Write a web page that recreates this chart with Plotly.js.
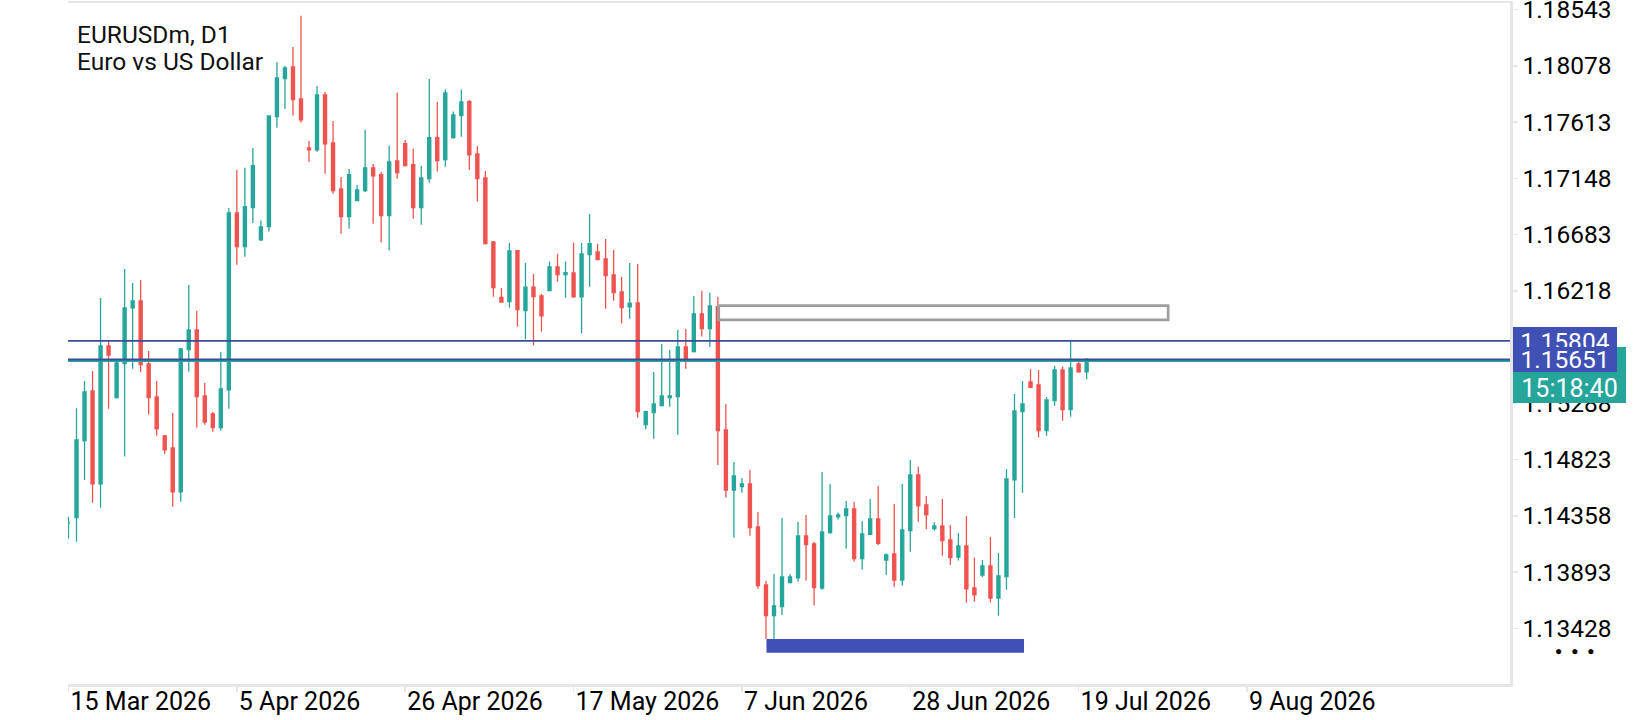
<!DOCTYPE html>
<html><head><meta charset="utf-8">
<script src="https://cdn.plot.ly/plotly-3.0.1.min.js"></script>
<style>html,body{margin:0;padding:0;background:#fff;} #chart{width:1640px;height:720px;}</style>
</head><body><div id="chart"></div>
<script>
// ---- data ----
const dates = [
'2026-03-15','2026-03-16','2026-03-17','2026-03-18','2026-03-19','2026-03-20','2026-03-21','2026-03-22','2026-03-23','2026-03-24','2026-03-25','2026-03-26','2026-03-27','2026-03-28','2026-03-29','2026-03-30','2026-03-31',
'2026-04-01','2026-04-02','2026-04-03','2026-04-04','2026-04-05','2026-04-06','2026-04-07','2026-04-08','2026-04-09','2026-04-10','2026-04-11','2026-04-12','2026-04-13','2026-04-14','2026-04-15','2026-04-16','2026-04-17','2026-04-18','2026-04-19','2026-04-20','2026-04-21','2026-04-22','2026-04-23','2026-04-24','2026-04-25','2026-04-26','2026-04-27','2026-04-28','2026-04-29','2026-04-30',
'2026-05-01','2026-05-02','2026-05-03','2026-05-04','2026-05-05','2026-05-06','2026-05-07','2026-05-08','2026-05-09','2026-05-10','2026-05-11','2026-05-12','2026-05-13','2026-05-14','2026-05-15','2026-05-16','2026-05-17','2026-05-18','2026-05-19','2026-05-20','2026-05-21','2026-05-22','2026-05-23','2026-05-24','2026-05-25','2026-05-26','2026-05-27','2026-05-28','2026-05-29','2026-05-30','2026-05-31',
'2026-06-01','2026-06-02','2026-06-03','2026-06-04','2026-06-05','2026-06-06','2026-06-07','2026-06-08','2026-06-09','2026-06-10','2026-06-11','2026-06-12','2026-06-13','2026-06-14','2026-06-15','2026-06-16','2026-06-17','2026-06-18','2026-06-19','2026-06-20','2026-06-21','2026-06-22','2026-06-23','2026-06-24','2026-06-25','2026-06-26','2026-06-27','2026-06-28','2026-06-29','2026-06-30',
'2026-07-01','2026-07-02','2026-07-03','2026-07-04','2026-07-05','2026-07-06','2026-07-07','2026-07-08','2026-07-09','2026-07-10','2026-07-11','2026-07-12','2026-07-13','2026-07-14','2026-07-15','2026-07-16','2026-07-17','2026-07-18','2026-07-19','2026-07-20'
];
const openP = [
1.14300,1.14343,1.14980,1.15391,1.14622,1.15763,1.15335,1.15616,1.16077,1.16135,1.15614,1.15341,1.15019,1.14919,1.14556,1.15732,1.15895,1.15349,1.15201,1.15087,
1.15399,1.16862,1.16584,1.16906,1.16639,1.16749,1.17658,1.17972,1.18069,1.17805,1.17400,1.17383,1.17838,1.17441,1.17061,1.16832,1.16964,1.17047,1.17234,1.17179,
1.16840,1.17292,1.17435,1.17261,1.16906,1.17146,1.17485,1.17303,1.17485,1.17667,1.17782,1.17350,1.17152,1.16622,1.16165,1.16129,1.16551,1.16054,1.16248,1.16176,
1.16220,1.16416,1.16352,1.16366,1.16168,1.16517,1.16540,1.16482,1.16350,1.16209,1.16087,1.16118,1.15112,1.15211,1.15269,1.15335,1.15344,1.15754,1.15716,1.16027,
1.15906,1.16087,1.15068,1.14572,1.14600,1.14622,1.14266,1.13787,1.13533,1.13607,1.13806,1.13845,1.14192,1.14126,1.13760,1.14219,1.14349,1.14360,1.14415,1.14004,
1.14206,1.14332,1.13993,1.14043,1.13828,1.14236,1.14696,1.14448,1.14252,1.14275,1.14159,1.14018,1.14109,1.13762,1.13869,1.13944,1.13679,1.13855,1.14655,1.15220,
1.15465,1.15440,1.15062,1.15310,1.15564,1.15236,1.15614,1.15548
];
const highP = [
1.14351,1.15248,1.15473,1.15556,1.16159,1.15812,1.15630,1.16399,1.16283,1.16308,1.15721,1.15473,1.15027,1.15209,1.15746,1.16267,1.16052,1.15457,1.15217,1.15713,
1.16904,1.17218,1.17237,1.17400,1.16799,1.17670,1.18110,1.18077,1.18234,1.18493,1.17457,1.17912,1.17862,1.17623,1.17160,1.17226,1.17094,1.17551,1.17267,1.17201,
1.17419,1.17857,1.17466,1.17394,1.17253,1.17970,1.17782,1.17882,1.17700,1.17882,1.17796,1.17416,1.17209,1.16631,1.16242,1.16614,1.16556,1.16449,1.16358,1.16193,
1.16460,1.16526,1.16460,1.16617,1.16614,1.16854,1.16608,1.16647,1.16556,1.16333,1.16449,1.16441,1.15228,1.15548,1.15779,1.15730,1.15895,1.15903,1.16176,1.16220,
1.16203,1.16168,1.15283,1.14804,1.14671,1.14738,1.14390,1.13820,1.13878,1.14341,1.13878,1.14308,1.14366,1.14142,1.14721,1.14622,1.14385,1.14481,1.14473,1.14316,
1.14498,1.14605,1.14049,1.14456,1.14622,1.14820,1.14765,1.14523,1.14305,1.14498,1.14283,1.14217,1.14357,1.14013,1.13993,1.14184,1.14051,1.14746,1.15366,1.15473,
1.15573,1.15564,1.15341,1.15597,1.15592,1.15804,1.15633,1.15663
];
const lowP = [
1.14170,1.14145,1.14655,1.14467,1.14426,1.15244,1.15329,1.14848,1.15575,1.15548,1.15195,1.15021,1.14870,1.14434,1.14475,1.15550,1.15087,1.15112,1.15054,1.15062,
1.15244,1.16435,1.16501,1.16780,1.16631,1.16708,1.17567,1.17724,1.17667,1.17609,1.17284,1.17369,1.17187,1.17022,1.16691,1.16732,1.16964,1.17036,1.16774,1.16617,
1.16551,1.17146,1.17247,1.16815,1.16765,1.17113,1.17204,1.17245,1.17476,1.17493,1.17218,1.16956,1.16602,1.16170,1.16121,1.16079,1.15922,1.15818,1.15768,1.15881,
1.16217,1.16294,1.16162,1.16162,1.15868,1.16253,1.16474,1.16071,1.16137,1.15950,1.15988,1.15170,1.15074,1.14996,1.15262,1.15261,1.15029,1.15575,1.15709,1.15840,
1.15754,1.14779,1.14509,1.14178,1.14550,1.14194,1.13756,1.13340,1.13340,1.13539,1.13799,1.13814,1.13822,1.13616,1.13748,1.14211,1.14327,1.14087,1.13979,1.13913,
1.14200,1.14117,1.13869,1.13773,1.13781,1.14062,1.14310,1.14247,1.14236,1.14029,1.13952,1.13988,1.13641,1.13649,1.13851,1.13641,1.13533,1.13748,1.14341,1.14550,
1.15415,1.15005,1.15021,1.15269,1.15145,1.15178,1.15542,1.15487
];
const closeP = [
1.14300,1.14986,1.15382,1.14622,1.15763,1.15688,1.15622,1.16077,1.16135,1.15608,1.15335,1.15077,1.14903,1.14556,1.15738,1.15895,1.15344,1.15134,1.15087,1.15407,
1.16862,1.16584,1.16914,1.17253,1.16746,1.17664,1.17978,1.18061,1.17799,1.17633,1.17383,1.17838,1.17433,1.17047,1.16832,1.17179,1.17052,1.17234,1.17168,1.16840,
1.17284,1.17195,1.17253,1.16906,1.17152,1.17485,1.17295,1.17854,1.17672,1.17780,1.17342,1.17146,1.16608,1.16245,1.16126,1.16548,1.16063,1.16248,1.16170,1.16011,
1.16416,1.16352,1.16369,1.16168,1.16523,1.16608,1.16476,1.16344,1.16203,1.16079,1.16116,1.15220,1.15220,1.15283,1.15349,1.15349,1.15754,1.15653,1.16027,1.15906,
1.16093,1.15062,1.14572,1.14688,1.14622,1.14261,1.13781,1.13533,1.13613,1.13853,1.13853,1.14192,1.14120,1.13765,1.14225,1.14357,1.14366,1.14415,1.14004,1.14208,
1.14332,1.14131,1.14035,1.13828,1.14241,1.14696,1.14440,1.14366,1.14275,1.14153,1.14013,1.14109,1.13754,1.13704,1.13944,1.13679,1.13861,1.14663,1.15225,1.15283,
1.15421,1.15062,1.15316,1.15564,1.15236,1.15581,1.15548,1.15639
];
// price scale labels (1.15753 lies under the price tags and is not visible)
const priceTicks = [1.18543,1.18078,1.17613,1.17148,1.16683,1.16218,1.15288,1.14823,1.14358,1.13893,1.13428];
const dateTicks = ['2026-03-15','2026-04-05','2026-04-26','2026-05-17','2026-06-07','2026-06-28','2026-07-19','2026-08-09'];
const dateTickText = ['15 Mar 2026','5 Apr 2026','26 Apr 2026','17 May 2026','7 Jun 2026','28 Jun 2026','19 Jul 2026','9 Aug 2026'];
const symbolName = 'EURUSDm, D1';
const symbolDesc = 'Euro vs US Dollar';
const levelUpper = 1.15804;
const levelLower = 1.15651;
const bidPrice = 1.15639;
const countdown = '15:18:40';
const boxZoneX = ['2026-06-04 01:40','2026-07-30 04:00'];
const boxZoneY = [1.15978, 1.16096];
const baseZoneX = ['2026-06-10 01:30','2026-07-12 04:30'];
const baseZoneY = [1.13227, 1.13340];
const viewX = ['2026-03-14 22:31','2026-09-10 19:24'];
const viewY = [1.12968, 1.18598];

// ---- styling ----
const UP = '#26a69a', DOWN = '#ef5350', BLUE = '#3f51b5', LINEBLUE = '#3d4b9c', FRAME = '#e6e6e6';
const FONT = 'Roboto, "Noto Sans", sans-serif';

const trace = {
  type: 'candlestick', x: dates, open: openP, high: highP, low: lowP, close: closeP,
  increasing: {line: {color: UP, width: 1.3}, fillcolor: UP},
  decreasing: {line: {color: DOWN, width: 1.3}, fillcolor: DOWN},
  whiskerwidth: 0, hoverinfo: 'skip'
};

const layout = {
  width: 1640, height: 720,
  margin: {l: 68, r: 130, t: 3, b: 36},
  paper_bgcolor: '#ffffff', plot_bgcolor: '#ffffff',
  showlegend: false, boxgap: 0.45,
  font: {family: FONT, size: 24, color: '#000'},
  xaxis: {
    type: 'date', range: viewX, rangeslider: {visible: false},
    showgrid: false, zeroline: false, showline: true, mirror: true,
    linecolor: FRAME, linewidth: 2.5,
    ticks: 'outside', ticklen: 5, tickwidth: 1.5, tickcolor: FRAME,
    tickmode: 'array', tickvals: dateTicks, ticktext: dateTickText,
    ticklabelposition: 'outside right', ticklabeloverflow: 'allow',
    ticklabelstandoff: -7,
    tickfont: {family: FONT, size: 25, color: '#000'}
  },
  yaxis: {
    side: 'right', range: viewY,
    showgrid: false, zeroline: false, showline: true,
    linecolor: FRAME, linewidth: 2.5,
    ticks: 'outside', ticklen: 5, tickwidth: 1.5, tickcolor: FRAME,
    tickmode: 'array', tickvals: priceTicks, ticktext: priceTicks.map(v => v.toFixed(5)),
    ticklabeloverflow: 'allow',
    tickfont: {family: FONT, size: 24.5, color: '#000'}
  },
  shapes: [
    {type: 'rect', xref: 'x', yref: 'y', x0: boxZoneX[0], x1: boxZoneX[1], y0: boxZoneY[0], y1: boxZoneY[1],
     line: {color: '#9e9e9e', width: 2.7}, fillcolor: 'rgba(0,0,0,0)', layer: 'above'},
    {type: 'rect', xref: 'x', yref: 'y', x0: baseZoneX[0], x1: baseZoneX[1], y0: baseZoneY[0], y1: baseZoneY[1],
     line: {width: 0}, fillcolor: BLUE, layer: 'above'},
    {type: 'line', xref: 'paper', yref: 'y', x0: 0, x1: 1, y0: levelUpper, y1: levelUpper,
     line: {color: LINEBLUE, width: 1.8}, layer: 'above'},
    {type: 'line', xref: 'paper', yref: 'y', x0: 0, x1: 1, y0: bidPrice, y1: bidPrice,
     line: {color: UP, width: 2}, layer: 'above'},
    {type: 'line', xref: 'paper', yref: 'y', x0: 0, x1: 1, y0: levelLower, y1: levelLower,
     line: {color: LINEBLUE, width: 2}, layer: 'above'}
  ],
  annotations: [
    {xref: 'paper', yref: 'paper', x: 0, y: 1, xanchor: 'left', yanchor: 'top', xshift: 8, yshift: -16,
     text: symbolName, showarrow: false, borderpad: 0, font: {family: FONT, size: 24.5, color: '#111'}},
    {xref: 'paper', yref: 'paper', x: 0, y: 1, xanchor: 'left', yanchor: 'top', xshift: 8, yshift: -43,
     text: symbolDesc, showarrow: false, borderpad: 0, font: {family: FONT, size: 24.5, color: '#111'}},
    {xref: 'paper', yref: 'y', x: 1, y: levelUpper, xanchor: 'left', yanchor: 'middle', xshift: 3,
     text: levelUpper.toFixed(5), showarrow: false, bgcolor: BLUE, width: 104, height: 28, borderpad: 0, borderwidth: 0,
     align: 'center', font: {family: FONT, size: 24.5, color: '#fff'}},
    {xref: 'paper', yref: 'y', x: 1, y: bidPrice, xanchor: 'left', yanchor: 'top', xshift: 3, yshift: 14,
     text: countdown, showarrow: false, bgcolor: UP, width: 113, height: 56, borderpad: 0, borderwidth: 0,
     align: 'center', valign: 'bottom', font: {family: FONT, size: 25, color: '#fff'}},
    {xref: 'paper', yref: 'y', x: 1, y: levelLower, xanchor: 'left', yanchor: 'middle', xshift: 3,
     text: levelLower.toFixed(5), showarrow: false, bgcolor: BLUE, width: 104, height: 25, borderpad: 0, borderwidth: 0,
     align: 'center', font: {family: FONT, size: 24.5, color: '#fff'}},
    {xref: 'paper', yref: 'paper', x: 1, y: 0, xanchor: 'center', yanchor: 'middle', xshift: 65, yshift: 33,
     text: '●&nbsp;&nbsp;&nbsp;●&nbsp;&nbsp;&nbsp;●', showarrow: false, font: {family: FONT, size: 12, color: '#000'}}
  ]
};

Plotly.newPlot('chart', [trace], layout, {staticPlot: true, displayModeBar: false});
</script>
</body></html>
